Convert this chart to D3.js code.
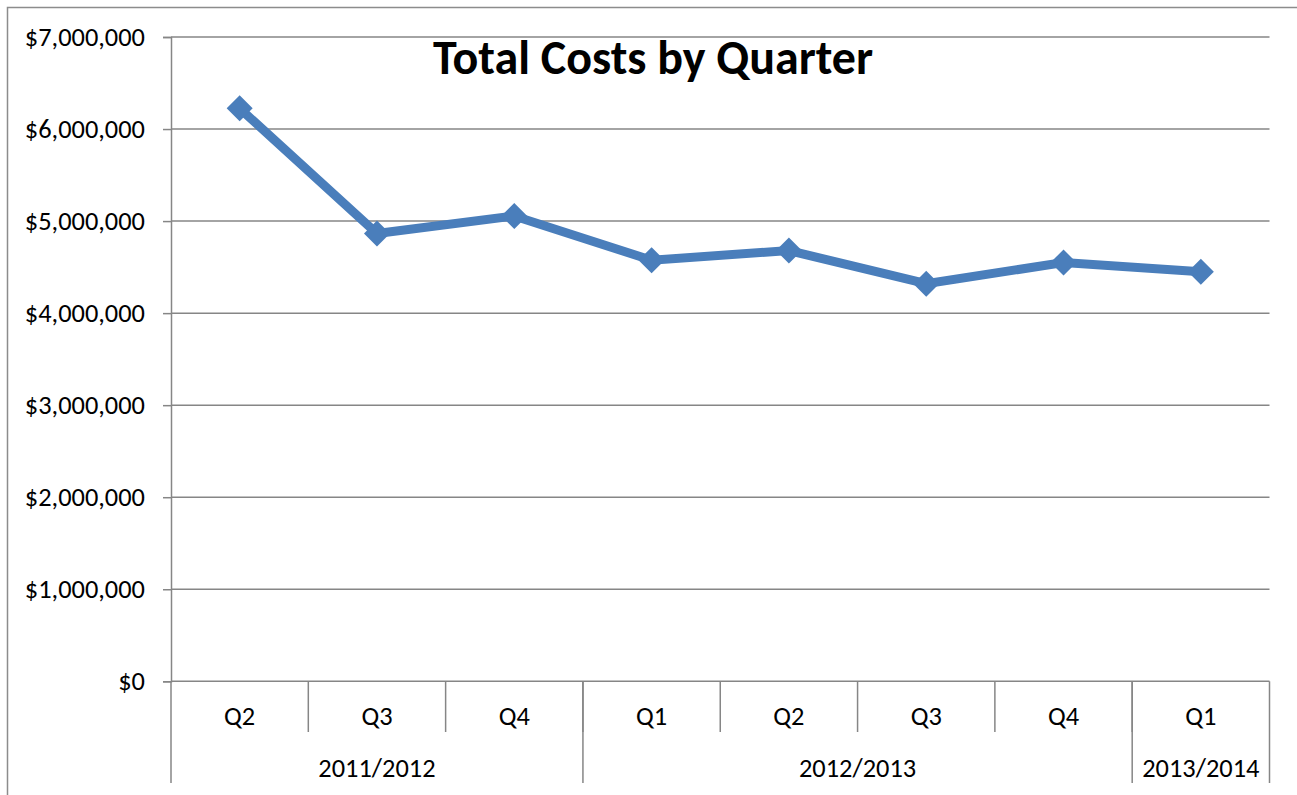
<!DOCTYPE html>
<html><head><meta charset="utf-8">
<script src="https://cdn.jsdelivr.net/npm/d3@7"></script>
<style>body{margin:0;background:#fff;}svg{display:block;}</style>
</head><body>
<svg id="c" width="1297" height="795"></svg>
<script>
const quarters = ["Q2","Q3","Q4","Q1","Q2","Q3","Q4","Q1"];
const fiscalYears = ["2011/2012","2011/2012","2011/2012","2012/2013","2012/2013","2012/2013","2012/2013","2013/2014"];
const totalCosts = [6225000, 4865000, 5055000, 4575000, 4680000, 4320000, 4550000, 4450000];
const yTicks = [0,1000000,2000000,3000000,4000000,5000000,6000000,7000000];
const title = "Total Costs by Quarter";

const svg = d3.select("#c");
const font = "Carlito, Calibri, Lato, 'Open Sans', sans-serif";
const fs = 26.4;
const L = 171, R = 1269.5, T = 37, B = 681.3;
const grid = "#868686";

// outer frame
svg.append("path").attr("d","M7.5,795V7.5H1297").attr("fill","none").attr("stroke","#8c8c8c").attr("stroke-width",1.5);

const idx = d3.range(quarters.length);
const x = d3.scaleBand().domain(idx).range([L,R]);
const y = d3.scaleLinear().domain([0,7000000]).range([B,T]);

// gridlines + y axis
const yAxis = d3.axisLeft(y).tickValues(yTicks).tickSize(8)
  .tickFormat(d => "$" + d3.format(",")(d));
const gy = svg.append("g").attr("transform",`translate(${L},0)`).call(yAxis);
gy.select(".domain").attr("stroke",grid).attr("stroke-width",1.5);
gy.selectAll(".tick line").attr("stroke",grid).attr("stroke-width",1.5);
gy.selectAll(".tick text").attr("x",-26).attr("font-family",font).attr("font-size",fs).attr("fill","#000");
svg.append("g").selectAll("line").data(yTicks).join("line")
  .attr("x1",L).attr("x2",R).attr("y1",d=>y(d)).attr("y2",d=>y(d))
  .attr("stroke",grid).attr("stroke-width",1.5);

// category axis (two levels)
const ax = svg.append("g");
ax.selectAll("line.q").data(d3.range(1,quarters.length)).join("line")
  .attr("x1",i=>x(i)).attr("x2",i=>x(i)).attr("y1",B).attr("y2",732)
  .attr("stroke",grid).attr("stroke-width",1.5);
const groups = [];
fiscalYears.forEach((fy,i)=>{
  if(!groups.length || groups[groups.length-1].fy!==fy) groups.push({fy,start:i,end:i});
  else groups[groups.length-1].end=i;
});
const yearEdges = [L].concat(groups.map(g=>x(g.end)+x.bandwidth()));
ax.selectAll("line.y").data(yearEdges).join("line")
  .attr("x1",d=>d).attr("x2",d=>d).attr("y1",B).attr("y2",783)
  .attr("stroke",grid).attr("stroke-width",1.5);
ax.selectAll("text.q").data(idx).join("text")
  .attr("x",i=>x(i)+x.bandwidth()/2).attr("y",716).attr("dy","0.35em")
  .attr("text-anchor","middle").attr("font-family",font).attr("font-size",fs)
  .text(i=>quarters[i]);
ax.selectAll("text.y").data(groups).join("text")
  .attr("x",g=>(x(g.start)+x(g.end)+x.bandwidth())/2).attr("y",768).attr("dy","0.35em")
  .attr("text-anchor","middle").attr("font-family",font).attr("font-size",fs)
  .text(g=>g.fy);

// line
const blue = "#4a7ebb";
const line = d3.line().x(i=>x(i)+x.bandwidth()/2).y(i=>y(totalCosts[i]));
svg.append("path").datum(idx).attr("d",line).attr("fill","none")
  .attr("stroke",blue).attr("stroke-width",9).attr("stroke-linejoin","miter");
svg.append("g").selectAll("path").data(idx).join("path")
  .attr("transform",i=>`translate(${x(i)+x.bandwidth()/2},${y(totalCosts[i])})`)
  .attr("d","M0,-13L13,0L0,13L-13,0Z").attr("fill",blue);

// title
svg.append("text").attr("x",653).attr("y",74).attr("text-anchor","middle")
  .attr("font-family",font).attr("font-weight","bold").attr("font-size",48)
  .text(title);
</script>
</body></html>
